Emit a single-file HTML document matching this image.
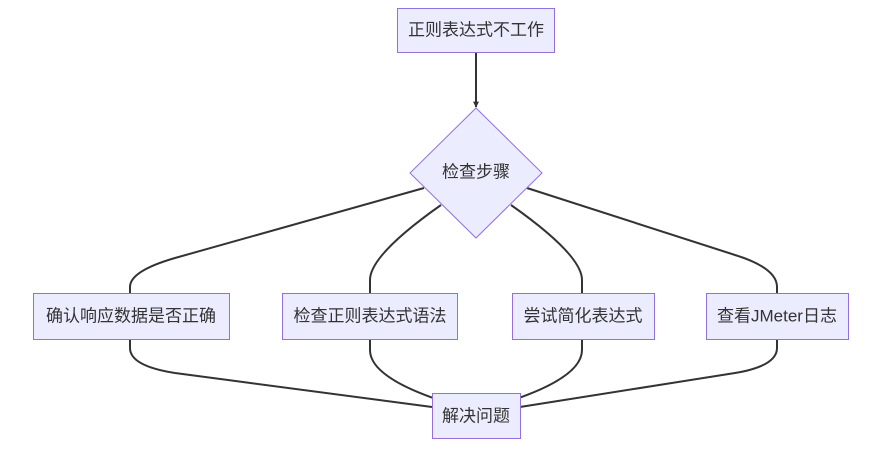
<!DOCTYPE html>
<html><head><meta charset="utf-8"><style>
body{margin:0;background:#fff;width:876px;height:449px;overflow:hidden}
</style></head><body>
<svg width="876" height="449" xmlns="http://www.w3.org/2000/svg">
<defs><marker id="a" viewBox="0 0 10 10" refX="9" refY="5" markerWidth="3" markerHeight="3" orient="auto"><path d="M0,0L10,5L0,10z" fill="#333"/></marker></defs>
<g fill="none" stroke="#333" stroke-width="2">
<path d="M476,52 L476,107" marker-end="url(#a)"/>
<path d="M424,188 L175,258 Q130,271 130,287 L130,293"/>
<path d="M441,205 Q370,255 370,280 L370,293"/>
<path d="M511,205 Q582,255 582,280 L582,293"/>
<path d="M527,188 L735,255 Q777,268 777,287 L777,293"/>
<path d="M130,339 L130,348 Q130,366 175,373 L432,407"/>
<path d="M370,339 L370,350 Q370,376 436,399"/>
<path d="M582,339 L582,350 Q582,376 516,399"/>
<path d="M777,339 L777,348 Q777,366 735,373 L520,407"/>
</g>
<g fill="#ECECFF" stroke="#9370DB" stroke-width="1">
<rect x="397.5" y="8.5" width="157" height="44"/>
<polygon points="476,108 542,173 476,238 410,173"/>
<rect x="33.5" y="293.5" width="196" height="46"/>
<rect x="282.5" y="293.5" width="175" height="46"/>
<rect x="512.5" y="293.5" width="142" height="46"/>
<rect x="706.5" y="293.5" width="142" height="46"/>
<rect x="432.5" y="393.5" width="88" height="45"/>
</g>
<g font-family="'Liberation Sans','Noto Sans CJK SC',sans-serif" font-size="17" fill="#333" text-anchor="middle" dominant-baseline="central">
<text x="476" y="30">正则表达式不工作</text>
<text x="476" y="172">检查步骤</text>
<text x="131" y="316">确认响应数据是否正确</text>
<text x="370" y="316">检查正则表达式语法</text>
<text x="583" y="316">尝试简化表达式</text>
<text x="777" y="316">查看JMeter日志</text>
<text x="476" y="416">解决问题</text>
</g>
</svg>
</body></html>
